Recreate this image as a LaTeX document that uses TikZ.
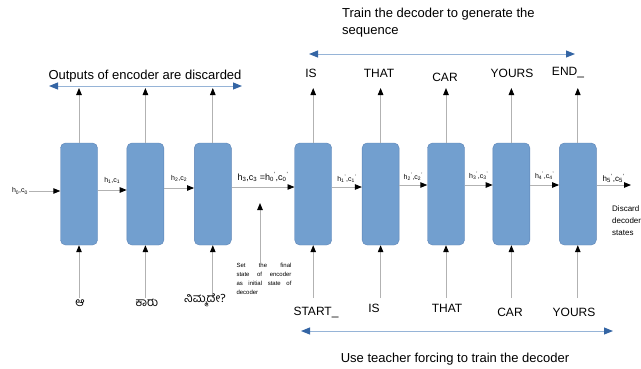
\documentclass[tikz,border=0pt]{standalone}
\usepackage{fontspec}
\setmainfont{Liberation Sans}
\newfontfamily\kannada[Script=Kannada]{Hind Mysuru}
\usetikzlibrary{positioning,arrows.meta}
\definecolor{c1}{RGB}{114, 159, 207}
\definecolor{c2}{RGB}{52, 101, 164}
\definecolor{c3}{RGB}{150, 180, 215}
\tikzset{
	cell/.style={
		rectangle, minimum width=37pt, minimum height=102pt, rounded corners=5pt,
		draw=c2!80, line width=0.4pt, fill=c1
	},
	%
	flow/.style={
		draw=black!30, line width=0.9pt, -{Triangle[black, length=7pt, width=5.5pt]}
	},
	%
	bothways/.style={
		draw=c3, line width=1pt,
		{Triangle[c2, length=9pt, width=7pt]}-{Triangle[c2, length=9pt, width=7pt]}
	},
	%
	word/.style={font=\fontsize{12}{14}\selectfont, inner sep=1pt},
	kword/.style={font=\kannada\fontsize{12}{14}\selectfont, inner sep=1pt},
	hstate/.style={font=\fontsize{7}{8}\selectfont, inner sep=1pt},
	remark/.style={font=\fontsize{13}{17}\selectfont, inner sep=0pt},
	note/.style={font=\fontsize{6}{9}\selectfont, inner sep=0pt}
}
\newcommand{\hc}[1]{h\textsubscript{#1},c\textsubscript{#1}}
\newcommand{\hcp}[1]{h\textsubscript{#1}\textsuperscript{'},c\textsubscript{#1}\textsuperscript{'}}

\begin{document}
\begin{tikzpicture}[x=1pt, y=-1pt]
    \clip (0,0) rectangle (641,368);
    % encoder
    \node(e1)[cell] at (79,194){};
    \node(e2)[cell, right=29pt of e1]{};
    \node(e3)[cell, right=30pt of e2]{};
    % decoder
    \node(d1)[cell, right=63pt of e3]{};
    \node(d2)[cell, right=30pt of d1]{};
    \node(d3)[cell, right=28pt of d2]{};
    \node(d4)[cell, right=28pt of d3]{};
    \node(d5)[cell, right=29pt of d4]{};
    \foreach \c in {e1,e2,e3,d1,d2,d3,d4,d5}{
        \coordinate(\c top) at (\c |- 0,88);
        \coordinate(\c bot) at (\c |- 0,298);
        \draw[flow] (\c.north) -- (\c top);
        \draw[flow] (\c bot) -- (\c.south);
    }
    % states
    \node(h0)[hstate] at (20,191){\hc{0}};
    \draw[flow] (h0) -- ([yshift=3pt]e1.west);
    \draw[flow] ([yshift=4pt]e1.east) -- node[hstate, above=5pt]{\hc{1}} ([yshift=4pt]e2.west);
    \draw[flow] ([yshift=6pt]e2.east) -- node[hstate, above=5pt]{\hc{2}} ([yshift=6pt]e3.west);
    \draw[flow] ([yshift=7pt]e3.east) -- node[hstate, font=\fontsize{9}{10}\selectfont, above=4pt]{\hc{3} =\hcp{0}} ([yshift=7pt]d1.west);
    \draw[flow] ([yshift=7pt]d1.east) -- node[hstate, above=3pt]{\hcp{1}} ([yshift=7pt]d2.west);
    \draw[flow] ([yshift=9pt]d2.east) -- node[hstate, above=3pt]{\hcp{2}} ([yshift=9pt]d3.west);
    \draw[flow] ([yshift=9pt]d3.east) -- node[hstate, above=4pt]{\hcp{3}} ([yshift=9pt]d4.west);
    \draw[flow] ([yshift=9pt]d4.east) -- node[hstate, above=4pt]{\hcp{4}} ([yshift=9pt]d5.west);
    \coordinate(last) at (631,185);
    \draw[flow] ([yshift=9pt]d5.east) -- node[hstate, font=\fontsize{8}{9}\selectfont, above=1pt]{\hcp{5}} (last);
    \node(disc)[note, font=\fontsize{8}{12}\selectfont, anchor=north west, align=left] at (612,205){Discard\\decoder\\states};
    % hand over
    \node(set)[note, text width=55pt, align=justify] at (264,279){Set the final\linebreak state of encoder\linebreak as initial state of\linebreak decoder};
    \coordinate(handover) at (260,203);
    \draw[flow] (set.north -| handover) -- (handover);
    % inputs
    \node(i1)[kword] at (80,303){ಆ};
    \node(i2)[kword] at (147,303){ಕಾರು};
    \node(i3)[kword] at (205,300){ನಿಮ್ಮದೇ?};
    \node(j1)[word] at (316,312){START\_};
    \node(j2)[word] at (374,308){IS};
    \node(j3)[word] at (447,308){THAT};
    \node(j4)[word] at (510,312){CAR};
    \node(j5)[word] at (574,312){YOURS};
    % outputs
    \node(o1)[word] at (311,73){IS};
    \node(o2)[word] at (379,73){THAT};
    \node(o3)[word] at (445,77){CAR};
    \node(o4)[word] at (512,73){YOURS};
    \node(o5)[word] at (568,73){END\_};
    % spans
    \coordinate(a1) at (49,86);
    \coordinate(a2) at (242,86);
    \draw[bothways] (a1) -- (a2);
    \node(enctext)[remark] at (145,76){Outputs of encoder are discarded};
    \coordinate(b1) at (309,54);
    \coordinate(b2) at (575,54);
    \draw[bothways] (b1) -- (b2);
    \node(trtext)[remark, anchor=north west, align=left] at (342,8){Train the decoder to generate the\\sequence};
    \coordinate(c1) at (301,331);
    \coordinate(c2) at (613,331);
    \draw[bothways] (c1) -- (c2);
    \node(tftext)[remark] at (455,359){Use teacher forcing to train the decoder};
\end{tikzpicture}
\end{document}
